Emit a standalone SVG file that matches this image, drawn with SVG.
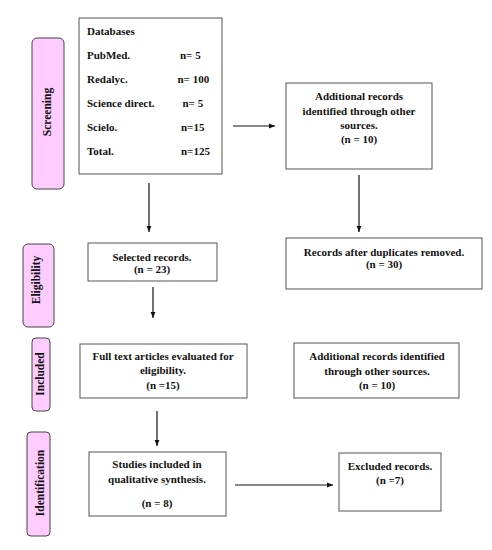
<svg xmlns="http://www.w3.org/2000/svg" width="492" height="550" viewBox="0 0 492 550">
<style>
text{font-family:"Liberation Serif","Times New Roman",serif;font-weight:bold;font-size:11px;fill:#111}
.box{fill:#fff;stroke:#555;stroke-width:1}
.lab{fill:#ffccff;stroke:#444;stroke-width:1}
.c{text-anchor:middle}
.v{text-anchor:middle;dominant-baseline:central;font-size:11.5px}
.ln{stroke:#111;stroke-width:1.2;fill:none}
</style>
<defs>
<marker id="ah" viewBox="0 0 10 10" refX="10" refY="5" markerWidth="6" markerHeight="6" orient="auto" markerUnits="userSpaceOnUse">
<path d="M0,1 L10,5 L0,9 Z" fill="#111"/>
</marker>
</defs>
<rect width="492" height="550" fill="#fff"/>

<g id="label-screening"><rect class="lab" x="32" y="38" width="32" height="151" rx="5"/><text class="v" transform="translate(47,112) rotate(-90)">Screening</text></g>
<g id="label-eligibility"><rect class="lab" x="23" y="244" width="31" height="83" rx="5"/><text class="v" transform="translate(36,280) rotate(-90)">Eligibility</text></g>
<g id="label-included"><rect class="lab" x="32" y="338" width="18" height="73" rx="4"/><text class="v" transform="translate(40,374) rotate(-90)">Included</text></g>
<g id="label-identification"><rect class="lab" x="27" y="432" width="23" height="104" rx="4"/><text class="v" transform="translate(40,483) rotate(-90)">Identification</text></g>

<g id="databases"><rect class="box" x="79" y="18" width="143" height="156"/>
<text x="87" y="35">Databases</text>
<text x="87" y="59">PubMed.</text><text x="180" y="59">n= 5</text>
<text x="87" y="83">Redalyc.</text><text x="177.5" y="83">n= 100</text>
<text x="87" y="107">Science direct.</text><text x="182.5" y="107">n= 5</text>
<text x="87" y="131">Scielo.</text><text x="181" y="131">n=15</text>
<text x="87" y="155">Total.</text><text x="181" y="155">n=125</text>
</g>

<g id="additional1"><rect class="box" x="286" y="83" width="146" height="86"/>
<text class="c" x="359" y="100">Additional records</text>
<text class="c" x="359" y="115">identified through other</text>
<text class="c" x="359" y="129">sources.</text>
<text class="c" x="359" y="143">(n = 10)</text>
</g>

<g id="selected"><rect class="box" x="88" y="243" width="129" height="38"/>
<text class="c" x="152" y="261">Selected records.</text>
<text class="c" x="152" y="273">(n = 23)</text>
</g>

<g id="duplicates"><rect class="box" x="286" y="238" width="196" height="51"/>
<text class="c" x="384" y="256">Records after duplicates removed.</text>
<text class="c" x="384" y="268">(n = 30)</text>
</g>

<g id="fulltext"><rect class="box" x="80" y="344" width="167" height="54"/>
<text class="c" x="163" y="360">Full text articles evaluated for</text>
<text class="c" x="163" y="374">eligibility.</text>
<text class="c" x="163" y="389">(n =15)</text>
</g>

<g id="additional2"><rect class="box" x="294" y="343" width="165" height="55"/>
<text class="c" x="377" y="360">Additional records identified</text>
<text class="c" x="377" y="375">through other sources.</text>
<text class="c" x="377" y="389">(n = 10)</text>
</g>

<g id="studies"><rect class="box" x="89" y="452" width="137" height="64"/>
<text class="c" x="157" y="468">Studies included in</text>
<text class="c" x="157" y="483">qualitative synthesis.</text>
<text class="c" x="157" y="507">(n = 8)</text>
</g>

<g id="excluded"><rect class="box" x="339" y="453" width="102" height="58"/>
<text class="c" x="390" y="470">Excluded records.</text>
<text class="c" x="390" y="484">(n =7)</text>
</g>

<g id="connectors">
<line class="ln" x1="233" y1="126" x2="275" y2="126" marker-end="url(#ah)"/>
<line class="ln" x1="149" y1="183" x2="149" y2="232" marker-end="url(#ah)"/>
<line class="ln" x1="359" y1="175" x2="359" y2="232" marker-end="url(#ah)"/>
<line class="ln" x1="153" y1="287" x2="153" y2="318" marker-end="url(#ah)"/>
<line class="ln" x1="157" y1="411" x2="157" y2="446" marker-end="url(#ah)"/>
<line class="ln" x1="235" y1="485" x2="333" y2="485" marker-end="url(#ah)"/>
</g>
</svg>
